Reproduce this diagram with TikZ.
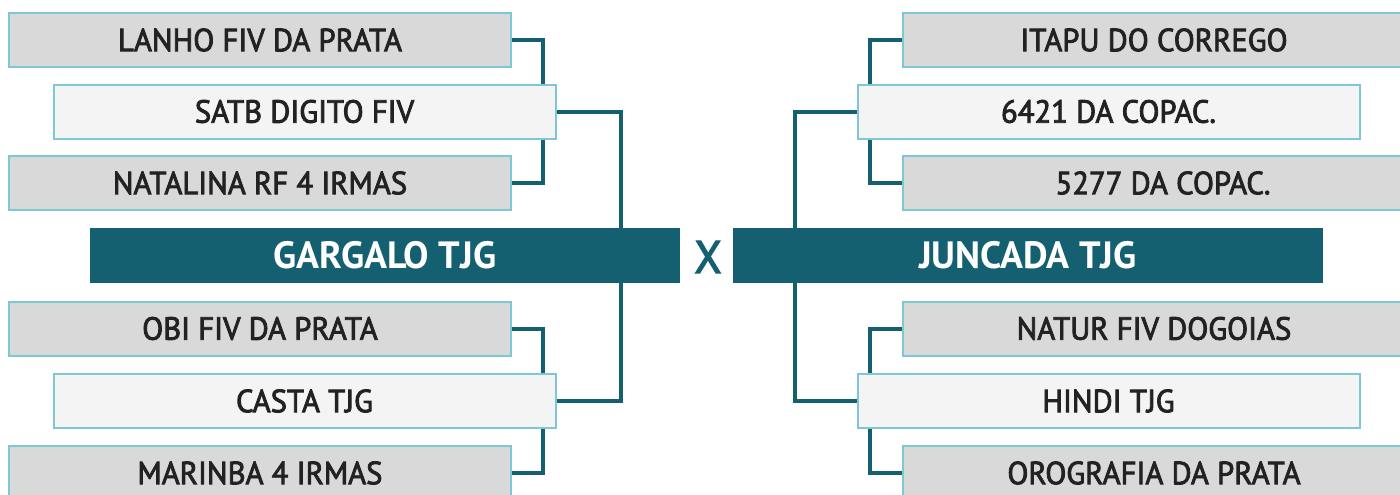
\documentclass[tikz,border=0pt]{standalone}
\usepackage{fontspec}
\setmainfont{PT Sans}
\newfontfamily\seedfont[FakeBold=2.6, FakeStretch=0.96]{PT Sans}
\usepackage{tikz}
\usetikzlibrary{backgrounds}
\definecolor{TealColour}{RGB}{21,96,112}
\definecolor{edgeblue}{RGB}{126,200,214}
\definecolor{seedgrey}{RGB}{217,217,217}
\definecolor{seedlight}{RGB}{244,244,244}
\definecolor{inkgrey}{RGB}{34,34,34}

\tikzset{
  seed/.style={rectangle, draw=edgeblue, fill=seedgrey, line width=2pt,
    minimum width=502pt, minimum height=54pt, inner sep=0pt, text=inkgrey,
    font=\seedfont\fontsize{32}{34}\selectfont},
  parent/.style={seed, fill=seedlight},
  team/.style={rectangle, fill=TealColour, minimum width=590pt, minimum height=55pt,
    inner sep=0pt, text=white, font=\fontsize{38}{40}\selectfont\bfseries},
  link/.style={draw=TealColour, line width=4pt}
}

\begin{document}
\begin{tikzpicture}[x=1pt, y=-1pt]
  \useasboundingbox (0,0) rectangle (1400,495);
  \clip (0,0) rectangle (1400,495);

  % left bracket
  \node[seed]   (lanho)    at (260,40)    {LANHO FIV DA PRATA};
  \node[parent] (satb)     at (304.5,111.5) {SATB DIGITO FIV};
  \node[seed]   (natalina) at (260,183)   {NATALINA RF 4 IRMAS};
  \node[team]   (gargalo)  at (385,255.5) {GARGALO TJG};
  \node[seed]   (obi)      at (260,328.5) {OBI FIV DA PRATA};
  \node[parent] (casta)    at (304.5,401) {CASTA TJG};
  \node[seed]   (marinba)  at (260,473)   {MARINBA 4 IRMAS};

  % versus
  \node[text=TealColour, font=\seedfont\fontsize{46}{48}\selectfont] (versus) at (708,257) {X};

  % right bracket
  \node[seed]   (itapu)     at (1154,40)    {ITAPU DO CORREGO};
  \node[parent] (copac6421) at (1108.5,111.5) {6421 DA COPAC.};
  \node[seed]   (copac5277) at (1154,183)   {\hspace*{18pt}5277 DA COPAC.};
  \node[team]   (juncada)   at (1028,255.5) {JUNCADA TJG};
  \node[seed]   (natur)     at (1154,328.5) {NATUR FIV DOGOIAS};
  \node[parent] (hindi)     at (1108.5,401) {HINDI TJG};
  \node[seed]   (orografia) at (1154,473)   {OROGRAFIA DA PRATA};

  \begin{scope}[on background layer]
    % left connectors
    \draw[link] (lanho.east) -- ++(31,0) |- (natalina.east);
    \draw[link] (obi.east) -- ++(31,0) |- (marinba.east);
    \draw[link] (satb.east) -- ++(64,0) coordinate (gk) -- (gk |- gargalo.north);
    \draw[link] (casta.east) -- ++(64,0) coordinate (gc) -- (gc |- gargalo.south);
    % right connectors
    \draw[link] (itapu.west) -- ++(-32,0) |- (copac5277.west);
    \draw[link] (natur.west) -- ++(-32,0) |- (orografia.west);
    \draw[link] (copac6421.west) -- ++(-62,0) coordinate (jk) -- (jk |- juncada.north);
    \draw[link] (hindi.west) -- ++(-62,0) coordinate (jc) -- (jc |- juncada.south);
  \end{scope}
\end{tikzpicture}
\end{document}
